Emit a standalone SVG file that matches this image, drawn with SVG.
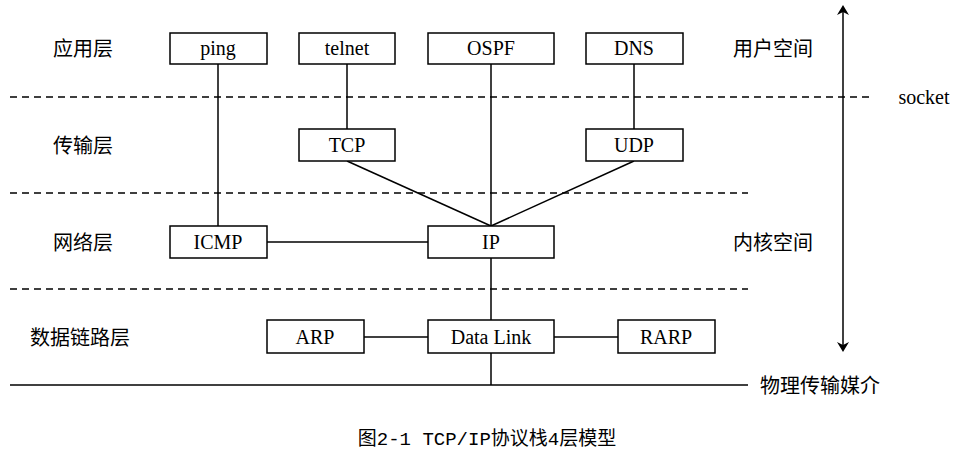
<svg xmlns="http://www.w3.org/2000/svg" width="963" height="458" viewBox="0 0 963 458">
<style>
.b{fill:#fff;stroke:#000;stroke-width:1.5}
.t{font-family:"Liberation Serif",serif;font-size:20px;text-anchor:middle;dominant-baseline:central}
.c{font-family:"Noto Sans CJK SC",sans-serif;font-size:20px;dominant-baseline:central}
.l{stroke:#000;stroke-width:1.5;fill:none}
.d{stroke:#000;stroke-width:1.5;stroke-dasharray:7 5}
</style>
<defs><marker id="a" markerWidth="10" markerHeight="12" refX="5" refY="6" orient="auto-start-reverse" markerUnits="userSpaceOnUse"><path d="M0,0 L10,6 L0,12 L3,6 Z" fill="#000"/></marker></defs>
<rect width="963" height="458" fill="#fff"/>
<g id="connectors">
<line class="d" x1="10" y1="97" x2="870" y2="97"/>
<line class="d" x1="10" y1="193" x2="748" y2="193"/>
<line class="d" x1="10" y1="289" x2="748" y2="289"/>
<line class="l" x1="10" y1="385" x2="748" y2="385"/>
<line class="l" x1="843" y1="10" x2="843" y2="347" marker-start="url(#a)" marker-end="url(#a)"/>
<line class="l" x1="218" y1="64" x2="218" y2="226"/>
<line class="l" x1="347" y1="64" x2="347" y2="129"/>
<line class="l" x1="491" y1="64" x2="491" y2="226"/>
<line class="l" x1="634" y1="64" x2="634" y2="129"/>
<line class="l" x1="347" y1="161" x2="491" y2="226"/>
<line class="l" x1="634" y1="161" x2="491" y2="226"/>
<line class="l" x1="267" y1="242" x2="428" y2="242"/>
<line class="l" x1="491" y1="258" x2="491" y2="320"/>
<line class="l" x1="364" y1="337" x2="428" y2="337"/>
<line class="l" x1="554" y1="337" x2="618" y2="337"/>
<line class="l" x1="491" y1="353" x2="491" y2="385"/>
</g>
<g id="ping"><rect class="b" x="170" y="33" width="97" height="31"/><text class="t" x="218" y="48">ping</text></g>
<g id="telnet"><rect class="b" x="299" y="33" width="96" height="31"/><text class="t" x="347" y="48">telnet</text></g>
<g id="ospf"><rect class="b" x="428" y="33" width="126" height="31"/><text class="t" x="491" y="48">OSPF</text></g>
<g id="dns"><rect class="b" x="586" y="33" width="97" height="31"/><text class="t" x="634" y="48">DNS</text></g>
<g id="tcp"><rect class="b" x="299" y="129" width="96" height="32"/><text class="t" x="347" y="145">TCP</text></g>
<g id="udp"><rect class="b" x="586" y="129" width="97" height="32"/><text class="t" x="634" y="145">UDP</text></g>
<g id="icmp"><rect class="b" x="170" y="226" width="97" height="32"/><text class="t" x="218" y="242">ICMP</text></g>
<g id="ip"><rect class="b" x="428" y="226" width="126" height="32"/><text class="t" x="491" y="242">IP</text></g>
<g id="arp"><rect class="b" x="267" y="320" width="97" height="33"/><text class="t" x="315" y="337">ARP</text></g>
<g id="datalink"><rect class="b" x="428" y="320" width="126" height="33"/><text class="t" x="491" y="337">Data Link</text></g>
<g id="rarp"><rect class="b" x="618" y="320" width="97" height="33"/><text class="t" x="666" y="337">RARP</text></g>
<g id="labels">
<text class="c" x="53" y="47">应用层</text>
<text class="c" x="53" y="144">传输层</text>
<text class="c" x="53" y="241">网络层</text>
<text class="c" x="30" y="336">数据链路层</text>
<text class="c" x="733" y="47">用户空间</text>
<text class="c" x="733" y="241">内核空间</text>
<text class="t" x="924" y="97">socket</text>
<text class="c" x="760" y="384">物理传输媒介</text>
<text x="487" y="440" style="font-family:'Liberation Mono','Noto Sans CJK SC',monospace;font-size:19px;text-anchor:middle;dominant-baseline:central">图2-1 TCP/IP协议栈4层模型</text>
</g>
</svg>
